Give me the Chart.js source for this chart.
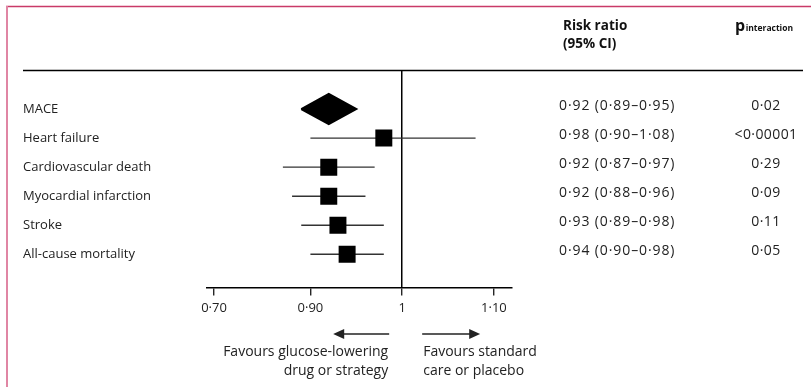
<!DOCTYPE html>
<html lang="en">
<head>
<meta charset="UTF-8">
<title>Risk ratio forest plot</title>
<script src="https://cdn.jsdelivr.net/npm/chart.js"></script>
<style>
  html, body { margin: 0; padding: 0; background: #fff; }
  #forest { display: block; }
</style>
</head>
<body>
<canvas id="forest" width="811" height="387"></canvas>
<script>
  // data
  const outcomes = ['MACE', 'Heart failure', 'Cardiovascular death', 'Myocardial infarction', 'Stroke', 'All-cause mortality'];
  const riskRatio = [0.92, 0.98, 0.92, 0.92, 0.93, 0.94];
  const ciLow = [0.89, 0.90, 0.87, 0.88, 0.89, 0.90];
  const ciHigh = [0.95, 1.08, 0.97, 0.96, 0.98, 0.98];
  const pInteraction = ['0·02', '<0·00001', '0·29', '0·09', '0·11', '0·05'];
  const xTickValues = [0.70, 0.90, 1, 1.10];
  const xTickLabels = ['0·70', '0·90', '1', '1·10'];

  const FONT = "'Open Sans', 'DejaVu Sans', sans-serif";
  const INK = '#222';

  Chart.defaults.font.family = FONT;
  Chart.defaults.color = INK;

  // x axis with a break: everything right of breakAt is linear, the stub on the left holds 0·70
  class BrokenLinearScale extends Chart.LinearScale {
    toDecimal(v) {
      const b = this.options.breakAt, s = this.options.breakShare;
      if (v >= b) return s + (v - b) / (this.max - b) * (1 - s);
      return (v - this.min) / (b - this.min) * s;
    }
    getPixelForValue(v) {
      if (v === null || v === undefined) return NaN;
      return this.getPixelForDecimal(this.toDecimal(v));
    }
    getValueForPixel(px) {
      const b = this.options.breakAt, s = this.options.breakShare;
      const d = this.getDecimalForPixel(px);
      if (d >= s) return b + (d - s) / (1 - s) * (this.max - b);
      return this.min + d / s * (b - this.min);
    }
  }
  BrokenLinearScale.id = 'brokenLinear';
  BrokenLinearScale.defaults = {};
  Chart.register(BrokenLinearScale);

  const fmt = v => v.toFixed(2).replace('.', '·');

  const DIAMOND_HALF = 0.52;
  const rows = outcomes.map((_, i) => i);

  const diamond = {
    type: 'scatter',
    order: 0,
    data: [
      { x: ciLow[0], y: 0 },
      { x: riskRatio[0], y: -DIAMOND_HALF },
      { x: ciHigh[0], y: 0 },
      { x: riskRatio[0], y: DIAMOND_HALF },
      { x: ciLow[0], y: 0 }
    ],
    showLine: true,
    fill: 'shape',
    borderColor: '#000',
    backgroundColor: '#000',
    borderWidth: 2,
    borderJoinStyle: 'miter',
    pointRadius: 0
  };

  const ciLines = rows.slice(1).map(i => ({
    type: 'scatter',
    order: 2,
    data: [{ x: ciLow[i], y: i }, { x: ciHigh[i], y: i }],
    showLine: true,
    borderColor: '#333',
    borderWidth: 1.4,
    pointRadius: 0
  }));

  const squares = {
    type: 'scatter',
    order: 1,
    data: rows.slice(1).map(i => ({ x: riskRatio[i], y: i })),
    pointStyle: 'rect',
    pointRadius: 12,
    pointHoverRadius: 12,
    backgroundColor: '#000',
    borderColor: '#000',
    borderWidth: 0
  };

  function arrow(ctx, x1, x2, y) {
    const dir = Math.sign(x2 - x1);
    ctx.beginPath();
    ctx.moveTo(x1, y);
    ctx.lineTo(x2 - dir * 9, y);
    ctx.stroke();
    ctx.beginPath();
    ctx.moveTo(x2, y);
    ctx.lineTo(x2 - dir * 11, y - 5);
    ctx.lineTo(x2 - dir * 11, y + 5);
    ctx.closePath();
    ctx.fill();
  }

  const decorations = {
    id: 'decorations',
    afterDraw(chart) {
      const ctx = chart.ctx;
      const xs = chart.scales.x, ys = chart.scales.y;
      ctx.save();

      // panel frame (only top and left edges show)
      ctx.strokeStyle = '#c93a68';
      ctx.lineWidth = 1.5;
      ctx.beginPath();
      ctx.moveTo(6, 6.5);
      ctx.lineTo(811, 6.5);
      ctx.stroke();
      ctx.strokeStyle = '#e086a4';
      ctx.lineWidth = 2;
      ctx.beginPath();
      ctx.moveTo(7, 6);
      ctx.lineTo(7, 387);
      ctx.stroke();

      // header rule
      ctx.strokeStyle = '#000';
      ctx.lineWidth = 1.5;
      ctx.beginPath();
      ctx.moveTo(23, 70.5);
      ctx.lineTo(803, 70.5);
      ctx.stroke();

      // column headers
      ctx.fillStyle = '#111';
      ctx.textBaseline = 'middle';
      ctx.textAlign = 'left';
      ctx.font = 'bold 13.5px ' + FONT;
      ctx.fillText('Risk ratio', 563, 26);
      ctx.fillText('(95% CI)', 563, 44);
      ctx.font = 'bold 16px ' + FONT;
      ctx.textBaseline = 'alphabetic';
      ctx.fillText('p', 735, 31);
      const pw = ctx.measureText('p').width;
      ctx.font = 'bold 8.5px ' + FONT;
      ctx.fillText('interaction', 735 + pw + 0.5, 31);

      // table values
      ctx.fillStyle = INK;
      ctx.font = '14px ' + FONT;
      ctx.textBaseline = 'middle';
      rows.forEach(i => {
        const y = ys.getPixelForValue(i) - 3;
        ctx.letterSpacing = '0.9px';
        ctx.textAlign = 'left';
        ctx.fillText(fmt(riskRatio[i]) + ' (' + fmt(ciLow[i]) + '–' + fmt(ciHigh[i]) + ')', 559, y);
        ctx.letterSpacing = '0.4px';
        ctx.textAlign = 'center';
        ctx.fillText(pInteraction[i], 766, y);
      });
      ctx.letterSpacing = '0px';

      // direction arrows under the axis
      const x1 = xs.getPixelForValue(1);
      ctx.strokeStyle = INK;
      ctx.fillStyle = INK;
      ctx.lineWidth = 1.5;
      arrow(ctx, x1 - 13, x1 - 69, 334);
      arrow(ctx, x1 + 20, x1 + 78, 334);
      ctx.font = '14px ' + FONT;
      ctx.textAlign = 'right';
      ctx.fillText('Favours glucose-lowering', x1 - 14, 352);
      ctx.fillText('drug or strategy', x1 - 14, 371);
      ctx.textAlign = 'left';
      ctx.fillText('Favours standard', x1 + 21, 352);
      ctx.fillText('care or placebo', x1 + 21, 371);

      ctx.restore();
    }
  };

  new Chart(document.getElementById('forest'), {
    data: { datasets: [diamond, squares].concat(ciLines) },
    options: {
      responsive: false,
      animation: false,
      events: [],
      layout: { padding: { left: 23, right: 299, top: 71, bottom: 66 } },
      plugins: { legend: { display: false }, tooltip: { enabled: false } },
      scales: {
        x: {
          type: 'brokenLinear',
          position: 'bottom',
          min: 0.6636,
          max: 1.1197,
          breakAt: 0.82,
          breakShare: 0.0984,
          bounds: 'data',
          afterBuildTicks: s => { s.ticks = xTickValues.map(v => ({ value: v })); },
          ticks: {
            autoSkip: false,
            maxRotation: 0,
            padding: 5,
            color: INK,
            font: { size: 13 },
            callback: (v, i) => xTickLabels[i]
          },
          grid: {
            drawOnChartArea: true,
            color: c => (c.tick && c.tick.value === 1 ? '#000' : 'rgba(0,0,0,0)'),
            lineWidth: 1.5,
            tickColor: '#000',
            tickLength: 8,
            tickWidth: 1.2
          },
          border: { display: true, color: '#000', width: 1.5 }
        },
        y: {
          type: 'linear',
          position: 'left',
          reverse: true,
          min: -1.31,
          max: 6.14,
          afterBuildTicks: s => { s.ticks = rows.map(v => ({ value: v })); },
          afterFit: s => { s.width = 184; },
          ticks: {
            crossAlign: 'far',
            color: INK,
            font: { size: 13 },
            callback: v => outcomes[v]
          },
          grid: { display: false },
          border: { display: false }
        }
      }
    },
    plugins: [decorations]
  });
</script>
</body>
</html>
